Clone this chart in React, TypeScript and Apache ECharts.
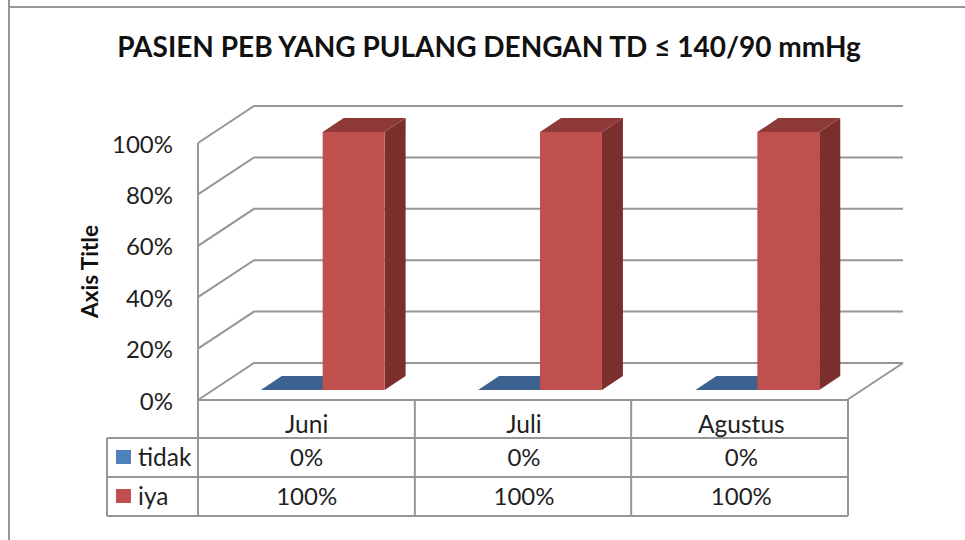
import React, { useEffect, useRef } from "react";
import * as echarts from "echarts";

const titleText = "PASIEN PEB YANG PULANG DENGAN TD ≤ 140/90 mmHg";
const axisTitle = "Axis Title";
const categories = ["Juni", "Juli", "Agustus"];
const tidakValues = [0, 0, 0];
const iyaValues = [100, 100, 100];
const yTicks = [0, 20, 40, 60, 80, 100];

const FONT = "Lato, 'Open Sans', sans-serif";
const TEXT = "#1f1f1f";
const LINE = "#969696";
const LEFT = 198, TOP = 143, W = 649, H = 257, GRID_W = 652;
const DEPTH_X = 56, DEPTH_Y = -37;
const BAR_FRACTION = 0.285;
const BAR_DEPTH_X = 21, BAR_DEPTH_Y = -14, BAR_SHIFT_X = 16, BAR_SHIFT_Y = -10;
const ROWS = [400, 438, 477, 516];
const TABLE_LEFT = 107;

function poly(points: number[][], fill: string) {
  return { type: "polygon", shape: { points }, style: { fill, stroke: null } };
}

function barRender(offset: number, front: string, top: string, side: string) {
  return (_p: any, api: any) => {
    const cat = api.value(0);
    const base = api.coord([cat, 0]);
    const head = api.coord([cat, api.value(1)]);
    const bw = api.size([1, 0])[0] * BAR_FRACTION;
    const x0 = base[0] + BAR_SHIFT_X + offset * bw;
    const x1 = x0 + bw;
    const yb = base[1] + BAR_SHIFT_Y;
    const yt = head[1] + BAR_SHIFT_Y - 1;
    const ytFlat = api.value(1) === 0 ? yb : yt;
    const dx = BAR_DEPTH_X, dy = BAR_DEPTH_Y;
    const children: any[] = [
      poly([[x1, yb], [x1 + dx, yb + dy], [x1 + dx, ytFlat + dy], [x1, ytFlat]], side),
      poly([[x0, ytFlat], [x1, ytFlat], [x1 + dx, ytFlat + dy], [x0 + dx, ytFlat + dy]], top),
    ];
    if (yb > ytFlat) children.push(poly([[x0, yb], [x1, yb], [x1, ytFlat], [x0, ytFlat]], front));
    return { type: "group", children };
  };
}

function wallRender(_p: any, api: any) {
  const v = api.value(1);
  const a = api.coord([0, v]);
  const leftX = a[0] - api.size([1, 0])[0] / 2;
  const rightX = leftX + W;
  const style = { stroke: LINE, lineWidth: 2, fill: "none" };
  const children: any[] = [
    {
      type: "polyline",
      shape: { points: [[leftX, a[1]], [leftX + DEPTH_X, a[1] + DEPTH_Y], [rightX + DEPTH_X, a[1] + DEPTH_Y]] },
      style,
    },
  ];
  if (v === 0) {
    children.push({
      type: "line",
      shape: { x1: rightX, y1: a[1], x2: rightX + DEPTH_X, y2: a[1] + DEPTH_Y },
      style,
    });
  }
  return { type: "group", children };
}

function tableGraphics() {
  const g: any[] = [];
  const line = (x1: number, y1: number, x2: number, y2: number) =>
    g.push({ type: "line", shape: { x1, y1, x2, y2 }, style: { stroke: LINE, lineWidth: 2 }, silent: true });
  const right = LEFT + W + 1;
  line(9, 0, 9, 540);
  line(9, 7, 965, 7);
  line(LEFT, ROWS[0], right, ROWS[0]);
  line(TABLE_LEFT, ROWS[1], right, ROWS[1]);
  line(TABLE_LEFT, ROWS[2], right, ROWS[2]);
  line(TABLE_LEFT, ROWS[3], right, ROWS[3]);
  line(TABLE_LEFT, ROWS[1], TABLE_LEFT, ROWS[3]);
  line(LEFT, TOP, LEFT, ROWS[3]);
  categories.forEach((_, i) => {
    const x = LEFT + ((i + 1) * W) / 3 + (i === 2 ? 1 : 0.5);
    line(x, ROWS[0], x, ROWS[3]);
  });
  const rows = [
    { name: "tidak", color: "#4f81bd", values: tidakValues },
    { name: "iya", color: "#c0504d", values: iyaValues },
  ];
  rows.forEach((r, ri) => {
    const cy = (ROWS[ri + 1] + ROWS[ri + 2]) / 2 - 1;
    g.push({ type: "rect", shape: { x: 116, y: cy - 6.5, width: 15, height: 14 }, style: { fill: r.color } });
    g.push({
      type: "text", x: 138, y: cy,
      style: { text: r.name, fontFamily: FONT, fontSize: 24.5, fill: TEXT, verticalAlign: "middle", align: "left" },
    });
    r.values.forEach((v, i) => {
      g.push({
        type: "text", x: LEFT + ((i + 0.5) * GRID_W) / 3, y: cy,
        style: { text: v + "%", fontFamily: FONT, fontSize: 24, fill: TEXT, align: "center", verticalAlign: "middle" },
      });
    });
  });
  return g;
}

export default function App() {
  const ref = useRef<HTMLDivElement>(null);
  useEffect(() => {
    const chart = echarts.init(ref.current!, null, { renderer: "svg" });
    chart.setOption({
      animation: false,
      backgroundColor: "#ffffff",
      title: {
        text: titleText,
        left: 484,
        top: 27,
        textAlign: "center",
        textStyle: { fontFamily: FONT, fontSize: 28, fontWeight: "bold", color: "#111111" },
      },
      grid: { left: LEFT, top: TOP, width: GRID_W, height: H },
      xAxis: {
        type: "category",
        data: categories,
        axisLine: { show: false },
        axisTick: { show: false },
        axisLabel: { fontFamily: FONT, fontSize: 24.5, color: TEXT, margin: 11 },
      },
      yAxis: {
        type: "value",
        min: 0,
        max: 100,
        interval: 20,
        name: axisTitle,
        nameLocation: "middle",
        nameGap: 97,
        nameTextStyle: { fontFamily: FONT, fontSize: 22.5, fontWeight: "bold", color: "#111111" },
        axisLine: { show: false },
        axisTick: { show: false },
        splitLine: { show: false },
        axisLabel: { fontFamily: FONT, fontSize: 24, color: TEXT, margin: 25, formatter: "{value}%" },
      },
      series: [
        {
          type: "custom", name: "grid", clip: false, silent: true,
          renderItem: wallRender,
          encode: { x: 0, y: 1 },
          data: yTicks.map((t) => [0, t]),
        },
        {
          type: "custom", name: "tidak", clip: false,
          renderItem: barRender(-1, "#4f81bd", "#3d6290", "#2f4c70"),
          encode: { x: 0, y: 1 },
          data: tidakValues.map((v, i) => [i, v]),
        },
        {
          type: "custom", name: "iya", clip: false,
          renderItem: barRender(0, "#c0504d", "#8e3a38", "#7b2f2d"),
          encode: { x: 0, y: 1 },
          data: iyaValues.map((v, i) => [i, v]),
        },
      ],
      graphic: tableGraphics(),
    });
    return () => chart.dispose();
  }, []);
  return <div ref={ref} style={{ position: "absolute", left: 0, top: 0, width: 965, height: 540 }} />;
}
